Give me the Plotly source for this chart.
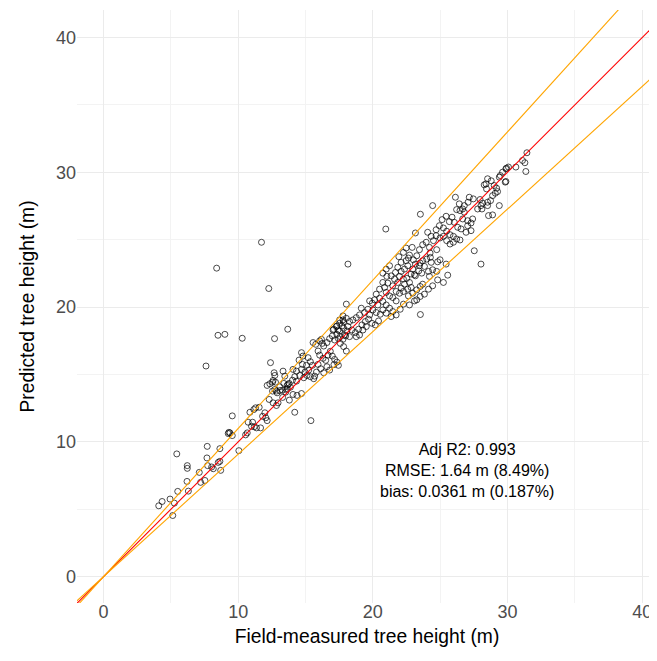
import plotly.graph_objects as go
import numpy as np

# ---------------- data ----------------
# outliers and scattered points
x_out = [11.73, 8.40, 12.27, 8.50, 9.01, 10.30, 12.70, 13.68, 7.61, 12.40, 12.67, 9.56, 14.2, 18.03,
         18.15, 20.96, 23.53, 24.44, 23.53, 28.03, 27.53, 25.56, 25.24, 24.81, 24.74, 25.44, 15.4]
y_out = [24.81, 22.89, 21.38, 17.91, 17.98, 17.69, 17.66, 18.36, 15.63, 15.88, 15.13, 11.93, 12.2, 20.22,
         23.19, 25.79, 26.89, 27.53, 19.45, 23.19, 24.18, 22.37, 21.83, 22.02, 22.65, 23.19, 11.58]

# small trees (4-12 m)
x_low = [4.10, 4.35, 4.94, 5.26, 5.14, 5.51, 5.44, 6.22, 6.22, 6.20, 6.30, 7.11, 7.21, 7.53, 7.70, 7.68,
         7.73, 8.03, 8.15, 8.52, 8.64, 8.70, 9.31, 9.26, 9.56, 10.05, 10.55, 10.67, 10.87, 11.16, 10.74,
         10.99, 11.19, 11.07, 11.36, 9.39, 8.64]
y_low = [5.26, 5.58, 5.76, 5.46, 4.54, 6.33, 9.11, 8.24, 8.04, 7.07, 6.35, 7.74, 7.00, 7.14, 9.67, 8.81,
         8.24, 8.14, 8.01, 8.48, 9.50, 7.89, 10.71, 10.62, 10.47, 9.35, 10.52, 10.67, 12.20, 12.40, 11.46,
         11.16, 11.12, 11.46, 11.04, 10.67, 8.56]

# 11-14 m
x_mid1 = [11.29, 11.56, 11.66, 11.81, 12.05, 12.15, 11.98, 12.30, 12.59, 12.84, 12.96, 12.15, 12.35, 12.59,
          12.77, 12.55, 12.89, 13.09, 13.53, 13.66, 13.39, 12.72, 13.63, 13.78]
y_mid1 = [12.53, 12.57, 11.04, 11.90, 11.79, 11.58, 12.16, 13.15, 12.90, 12.70, 12.90, 14.19, 14.31, 14.56,
          14.43, 13.77, 13.64, 13.81, 13.69, 13.94, 14.34, 14.93, 14.19, 14.34]

# 13-18 m
x_mid2 = [15.56, 15.76, 16.05, 16.25, 16.18, 14.70, 14.81, 14.52, 15.19, 15.36, 15.51, 15.07, 14.77, 14.70,
          14.96, 15.24, 14.57, 14.87, 15.11, 15.36, 15.61, 14.20, 14.33, 14.03, 13.70, 13.88, 13.59, 13.29,
          12.72, 14.07, 14.37, 14.70, 15.93, 16.05, 16.30, 16.50, 16.67, 16.84, 16.99, 17.16, 17.33, 17.11,
          17.44, 16.35, 16.59, 16.79, 16.99, 17.16, 17.33, 17.53, 17.70, 17.83, 17.53, 17.78, 17.33, 17.09,
          17.44, 17.58, 17.83, 17.98, 18.07, 17.78, 18.03, 15.93, 16.13, 16.35, 16.59, 16.79, 15.81, 15.68,
          14.07, 14.33, 13.33, 13.46, 12.55, 13.09, 12.84, 13.30, 13.80]
y_mid2 = [17.37, 17.24, 17.49, 17.31, 17.61, 16.62, 16.37, 16.07, 16.25, 15.95, 15.68, 15.68, 15.75, 15.38,
          15.18, 15.33, 14.93, 14.76, 14.93, 14.84, 14.69, 14.84, 14.51, 14.58, 14.26, 14.06, 13.89, 13.84,
          13.89, 13.52, 13.45, 13.59, 16.74, 16.44, 16.20, 16.05, 16.44, 16.72, 16.37, 16.12, 15.92, 15.73,
          15.68, 17.11, 17.37, 17.66, 17.86, 17.56, 17.98, 18.23, 18.60, 18.90, 19.05, 19.35, 18.60, 18.36,
          17.66, 17.31, 17.07, 17.86, 18.23, 17.61, 16.74, 15.75, 15.43, 15.13, 15.58, 15.33, 15.18, 14.88,
          15.38, 15.25, 15.25, 14.88, 14.43, 14.09, 13.77, 13.30, 13.10]

# 17-25 m
x_mid3 = [23.16, 24.07, 24.33, 24.70, 24.50, 23.96, 23.70, 24.20, 24.74, 24.81, 23.46, 23.26, 22.92, 22.72,
          22.47, 22.10, 21.93, 22.27, 23.70, 24.00, 24.27, 24.33, 23.83, 23.46, 23.16, 22.96, 22.84, 23.16,
          23.41, 22.59, 22.35, 22.10, 21.85, 21.68, 21.98, 22.27, 22.52, 22.72, 22.35, 22.10, 21.85, 21.61,
          21.36, 21.48, 21.73, 21.98, 22.27, 22.59, 22.84, 23.09, 22.72, 22.27, 22.03, 21.73, 21.48, 21.24,
          20.99, 20.87, 20.74, 21.11, 20.50, 20.25, 20.50, 20.74, 20.99, 21.24, 21.48, 21.73, 21.36, 20.99,
          20.74, 20.37, 20.13, 19.96, 19.76, 19.63, 19.39, 19.14, 19.01, 18.77, 18.52, 18.27, 18.03, 17.78,
          17.53, 17.29, 17.04, 17.41, 17.83, 18.15, 18.44, 18.70, 18.94, 19.19, 19.44, 19.68, 19.93, 20.18,
          20.42, 20.55, 20.25, 20.00, 19.76, 19.51, 19.26, 19.01, 18.77, 18.27, 17.90, 17.58, 24.44, 24.13,
          23.83, 23.51, 23.26, 23.70, 24.20, 24.44, 22.64, 22.96, 23.26, 23.51, 20.74, 20.99, 21.24, 21.04]
y_mid3 = [25.50, 25.55, 25.25, 25.30, 24.93, 24.81, 24.63, 24.43, 24.26, 23.36, 24.26, 23.81, 24.43, 23.86,
          23.44, 23.32, 23.74, 24.06, 23.44, 23.56, 23.69, 23.32, 23.02, 23.07, 23.19, 22.82, 22.45, 22.32,
          22.69, 23.07, 22.82, 22.65, 22.95, 22.57, 22.28, 22.08, 22.13, 21.83, 21.70, 21.41, 21.83, 22.08,
          22.32, 21.58, 21.16, 21.03, 21.16, 21.33, 21.46, 20.46, 20.16, 20.22, 19.84, 20.46, 20.71, 20.83,
          21.09, 21.46, 21.83, 21.78, 21.33, 20.96, 20.66, 20.42, 20.16, 19.92, 19.67, 19.42, 19.30, 19.55,
          19.79, 20.16, 20.54, 20.29, 20.46, 19.84, 19.60, 19.92, 19.42, 19.22, 19.05, 18.93, 19.17, 19.05,
          18.80, 18.56, 18.30, 18.30, 18.43, 18.56, 18.30, 18.11, 18.36, 18.68, 18.93, 19.10, 18.80, 18.68,
          18.97, 19.47, 19.60, 19.79, 19.42, 18.56, 18.30, 17.93, 17.81, 17.81, 17.93, 17.81, 21.58, 21.33,
          20.96, 20.79, 20.54, 21.70, 22.28, 22.77, 20.83, 21.03, 21.28, 21.53, 22.52, 22.82, 23.07, 22.28]

# tall trees (22-32 m)
x_high = [29.63, 29.88, 30.07, 29.46, 29.88, 28.52, 28.79, 28.27, 28.44, 29.01, 29.19, 29.26, 29.09, 28.89,
          28.74, 28.52, 28.15, 27.96, 27.46, 28.52, 28.03, 27.78, 28.59, 28.89, 29.39, 27.16, 27.07, 26.79,
          26.67, 26.47, 26.22, 26.13, 26.42, 26.79, 26.67, 27.04, 27.29, 27.04, 27.29, 26.92, 26.55, 26.30,
          26.05, 25.88, 25.68, 25.44, 25.14, 24.94, 25.24, 25.48, 25.73, 25.98, 26.22, 26.47, 24.70, 24.99,
          25.24, 25.48, 25.73, 25.98, 22.47, 22.64, 23.01, 23.51, 23.09, 23.63, 24.13, 24.99, 24.25,
          31.44, 31.11, 31.29, 31.36, 30.62, 29.93, 29.83, 29.39, 28.40, 28.10, 27.41]
y_high = [30.01, 30.26, 30.39, 29.76, 29.32, 29.52, 29.37, 29.07, 28.77, 29.02, 28.82, 28.57, 28.45, 28.27,
          27.90, 27.78, 27.71, 27.98, 28.03, 27.53, 27.53, 27.28, 26.79, 26.84, 27.53, 28.15, 27.78, 27.53,
          27.28, 27.16, 27.23, 28.15, 27.66, 27.04, 26.54, 26.41, 26.24, 26.04, 25.67, 25.55, 25.80, 25.92,
          26.29, 26.67, 26.34, 26.74, 26.49, 26.04, 25.87, 25.63, 25.37, 25.25, 25.05, 24.98, 25.74, 25.13,
          25.25, 24.93, 24.68, 24.81, 24.38, 23.64, 23.51, 23.27, 22.40, 22.52, 22.65, 23.51, 24.01,
          31.45, 30.88, 30.71, 30.06, 30.39, 30.31, 29.27, 29.64, 29.14, 27.28, 26.54]

field_height = x_out + x_low + x_mid1 + x_mid2 + x_mid3 + x_high
predicted_height = y_out + y_low + y_mid1 + y_mid2 + y_mid3 + y_high

# reference lines through the origin
one_to_one_slope = 1.0
band_slopes = [1.1, 1 / 1.1]

stats_lines = ["Adj R2: 0.993", "RMSE: 1.64 m (8.49%)", "bias: 0.0361 m (0.187%)"]
x_ticks = [0, 10, 20, 30, 40]
y_ticks = [0, 10, 20, 30, 40]

FONT = "Liberation Sans, Arial, sans-serif"

fig = go.Figure()
fig.add_trace(go.Scatter(
    x=field_height, y=predicted_height, mode="markers",
    marker=dict(symbol="circle-open", size=6, color="black", line=dict(width=0.7, color="black")),
    hoverinfo="x+y", showlegend=False))

line_x = np.array([-10.0, 60.0])
fig.add_trace(go.Scatter(x=line_x, y=one_to_one_slope * line_x, mode="lines",
                         line=dict(color="#FF0000", width=1.1), showlegend=False, hoverinfo="skip"))
for s in band_slopes:
    fig.add_trace(go.Scatter(x=line_x, y=s * line_x, mode="lines",
                             line=dict(color="orange", width=1.1), showlegend=False, hoverinfo="skip"))

fig.add_annotation(x=27.0, y=7.85, xref="x", yref="y", text="<br>".join(stats_lines),
                   showarrow=False, align="center", xanchor="center", yanchor="middle",
                   font=dict(family=FONT, size=16, color="black"))

axis_common = dict(
    showgrid=True, gridcolor="#EBEBEB", gridwidth=1,
    zeroline=False, showline=False, ticks="",
    tickfont=dict(family=FONT, size=18, color="#4D4D4D"),
    minor=dict(dtick=5, tick0=0, showgrid=True, gridcolor="#F3F3F3", gridwidth=0.8),
)

# the page body adds an 8 px offset, so the figure is sized to fill the visible window
fig.update_layout(
    width=649, height=653,
    margin=dict(l=69, r=0, t=2, b=58),
    paper_bgcolor="white", plot_bgcolor="white",
    font=dict(family=FONT),
    xaxis=dict(range=[-1.97, 41.1], tickvals=x_ticks, ticktext=[str(v) for v in x_ticks],
               ticklabelstandoff=-4,
               title=dict(text="Field-measured tree height (m)", standoff=8,
                          font=dict(family=FONT, size=19.3, color="black")),
               **axis_common),
    yaxis=dict(range=[-1.95, 42.04], tickvals=y_ticks, ticktext=[str(v) for v in y_ticks],
               ticklabelstandoff=0,
               title=dict(text="Predicted tree height (m)", standoff=16,
                          font=dict(family=FONT, size=19.3, color="black")),
               **axis_common),
)

fig.write_html("out.html")
